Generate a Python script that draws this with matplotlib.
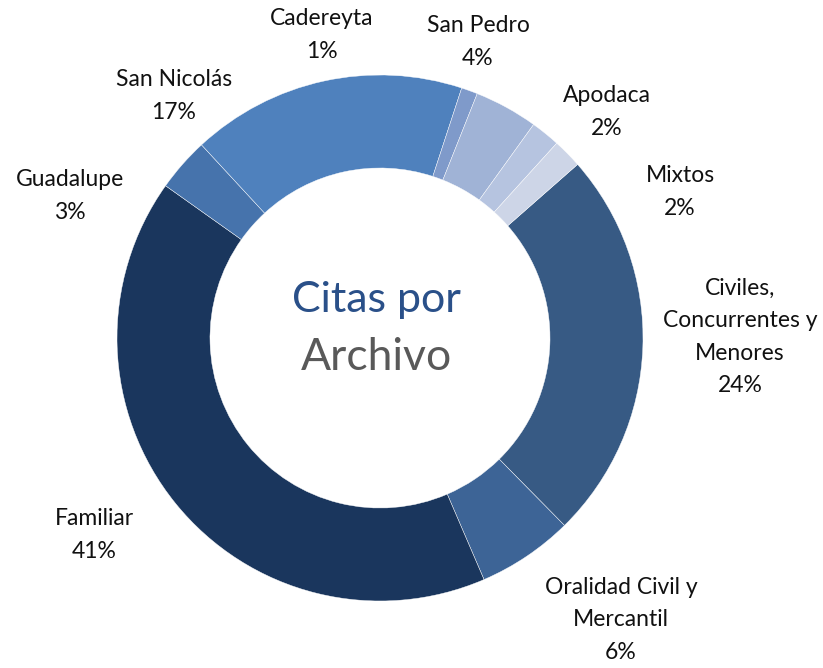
import matplotlib.pyplot as plt

# datos (porcentaje de citas por archivo), en orden de las manecillas del reloj
archivos = ['Civiles,\nConcurrentes y\nMenores', 'Oralidad Civil y\nMercantil', 'Familiar',
            'Guadalupe', 'San Nicolás', 'Cadereyta', 'San Pedro', 'Apodaca', 'Mixtos']
valores = [24.1, 5.9, 41.3, 3.3, 16.9, 1.0, 3.9, 1.8, 1.8]
colores = ['#375A84', '#3D6496', '#1A365D', '#4673AC', '#4F81BD',
           '#7F9ACA', '#A0B3D6', '#B6C4E0', '#CDD5E7']

# posicion de las etiquetas (pixeles de la imagen)
pos_etiquetas = [(740, 337), (621, 620), (94, 535), (70, 196), (174, 96),
                 (322, 35), (478, 42), (607, 112), (680, 192)]

W, H = 823, 668
fig = plt.figure(figsize=(W / 100, H / 100), dpi=100)
ax = fig.add_axes([0, 0, 1, 1])

ax.pie(valores, colors=colores, startangle=90 - 48.7, counterclock=False,
       center=(380, H - 338), radius=263,
       wedgeprops=dict(width=93, edgecolor='white', linewidth=0.3))
ax.set_xlim(0, W)
ax.set_ylim(0, H)
ax.set_aspect('equal')
ax.axis('off')

for nombre, v, (x, y) in zip(archivos, valores, pos_etiquetas):
    ax.text(x, H - y, f'{nombre}\n{round(v)}%', ha='center', va='center',
            fontsize=16.5, family='Lato', color='#111111', linespacing=1.68)

ax.text(376, H - 300, 'Citas por', ha='center', va='center', fontsize=31,
        family='Lato', color='#2A5089')
ax.text(376, H - 357, 'Archivo', ha='center', va='center', fontsize=32,
        family='Lato', color='#595959')

fig.savefig('out.png', dpi=100)
